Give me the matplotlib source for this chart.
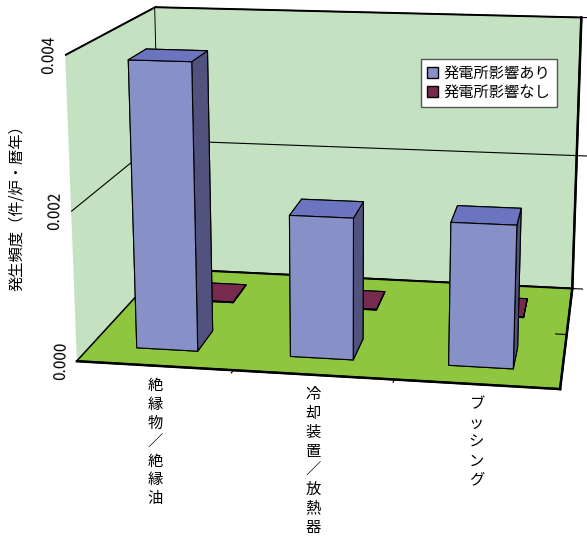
import matplotlib
matplotlib.use("Agg")
import matplotlib.pyplot as plt
from matplotlib.patches import Patch

plt.rcParams['font.family'] = ['Noto Sans CJK JP', 'DejaVu Sans']

# -------------------------------
# DATA
# -------------------------------
categories = ["絶縁物／絶縁油", "冷却装置／放熱器", "ブッシング"]
series_names = ["発電所影響あり", "発電所影響なし"]
with_effect = [0.00385, 0.0019, 0.0019]
without_effect = [0.00001, 0.00001, 0.00001]
z_ticks = [0.000, 0.002, 0.004]
y_label = "発生頻度（件/炉・暦年）"

# face colours: bottom, top, front, back, left, right
blue_faces = ["#8890c8", "#6b74be", "#8890c8", "#8890c8", "#52527e", "#52527e"]
red_faces = ["#762a4e", "#762a4e", "#762a4e", "#762a4e", "#4c1a35", "#4c1a35"]
wall_col = "#c4e2c2"
floor_col = "#8ec63f"

W, H = 587, 539
fig = plt.figure(figsize=(W / 100, H / 100), dpi=100)

# square 3D axes centred on the plot box
side = 610
cx, cy = 332, 190
ax = fig.add_axes([(cx - side / 2) / W, (H - cy - side / 2) / H,
                   side / W, side / H], projection='3d')
ax.set_proj_type('persp', focal_length=0.529)
ax.view_init(elev=13.9, azim=-80.6)
ax.set_box_aspect((1.55, 1.05, 1.0))

# bars: x = category, y = series (depth), z = value
bar_w = 0.4
bar_d = 1.0
xs, ys, dzs, colors = [], [], [], []
for s, (vals, faces) in enumerate([(with_effect, blue_faces),
                                    (without_effect, red_faces)]):
    y0 = 0.75 + s * 2.5
    for i, v in enumerate(vals):
        xs.append(i - bar_w / 2)
        ys.append(y0)
        dzs.append(v)
        colors += faces

ax.bar3d(xs, ys, [0] * len(xs), bar_w, bar_d, dzs, color=colors,
         shade=False, edgecolor="black", linewidth=0.8)

ax.set_xlim(-0.5, 2.5)
ax.set_ylim(0, 5)
ax.set_zlim(0, 0.004)

# walls and floor
ax.xaxis.set_pane_color(wall_col)
ax.yaxis.set_pane_color(wall_col)
ax.zaxis.set_pane_color(floor_col)
for axis in (ax.xaxis, ax.yaxis, ax.zaxis):
    axis.pane.set_edgecolor("black")
    axis.pane.set_linewidth(1.4)
    axis.line.set_linewidth(1.8)
    axis._axinfo["tick"]["inward_factor"] = 0.3
    axis._axinfo["tick"]["outward_factor"] = 0.0
    axis.label.set_visible(False)
    axis.offsetText.set_visible(False)
# depth ticks point the other way round
ax.yaxis._axinfo["tick"]["inward_factor"] = 0.0
ax.yaxis._axinfo["tick"]["outward_factor"] = 0.3

ax.grid(True)
ax.xaxis._axinfo["grid"]["color"] = (0, 0, 0, 0)
ax.yaxis._axinfo["grid"]["color"] = (0, 0, 0, 0)
ax.zaxis._axinfo["grid"]["color"] = "black"
ax.zaxis._axinfo["grid"]["linewidth"] = 0.8

ax.set_xticks([0.5, 1.5])
ax.set_yticks([2.5])
ax.set_zticks(z_ticks)
for axis in (ax.xaxis, ax.yaxis, ax.zaxis):
    for tick in axis.get_major_ticks():
        tick.label1.set_visible(False)
        tick.label2.set_visible(False)

# tick labels, written along the vertical axis
for z in z_ticks:
    ax.text(-0.6, 0, z, f"{z:.3f}", zdir=(0.03, 0, 0.001), ha="center",
            va="center", fontsize=11)
for i, name in enumerate(categories):
    ax.text(i, 0, -0.00015, "\n".join(name), ha="center", va="top",
            fontsize=11, linespacing=1.15)

fig.text(0.029, 0.621, y_label, rotation=90, ha="center", va="center",
         fontsize=11)

handles = [Patch(facecolor=blue_faces[2], edgecolor="black"),
           Patch(facecolor=red_faces[2], edgecolor="black")]
fig.legend(handles, series_names, loc="upper left",
           bbox_to_anchor=(421 / W, 1 - 59 / H), frameon=True,
           fancybox=False, edgecolor="#555555", framealpha=1,
           handlelength=0.7, handleheight=0.7, handletextpad=0.4,
           borderpad=0.4, labelspacing=0.12, borderaxespad=0, fontsize=11)

plt.savefig("out.png", dpi=100)
